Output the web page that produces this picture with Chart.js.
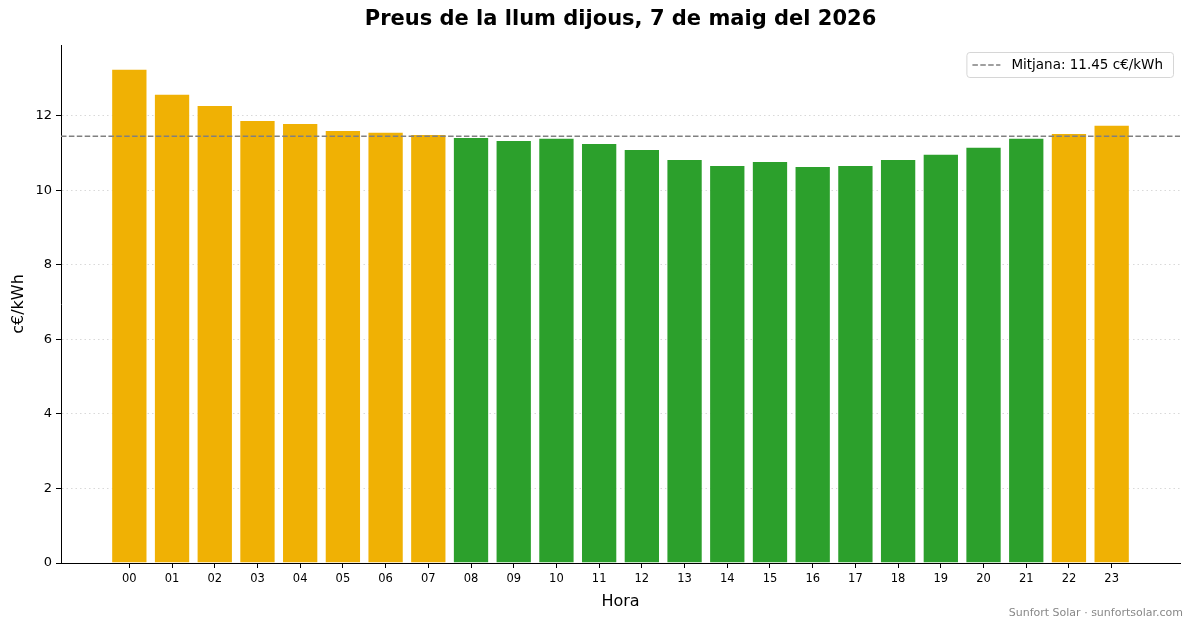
<!DOCTYPE html>
<html>
<head>
<meta charset="utf-8">
<script src="https://cdn.jsdelivr.net/npm/chart.js@4"></script>
<style>
  html, body { margin: 0; padding: 0; background: #fff; }
  #wrap { width: 1193px; height: 628px; position: relative; }
</style>
</head>
<body>
<div id="wrap"><canvas id="c"></canvas></div>
<script>
// hourly prices, c€/kWh
const hours = ['00','01','02','03','04','05','06','07','08','09','10','11',
               '12','13','14','15','16','17','18','19','20','21','22','23'];
const prices = [13.26, 12.59, 12.29, 11.89, 11.81, 11.62, 11.57, 11.51,
                11.43, 11.35, 11.41, 11.27, 11.11, 10.84, 10.68, 10.79,
                10.65, 10.68, 10.84, 10.98, 11.17, 11.41, 11.54, 11.76];
const mean = 11.45;
const yTicks = [0, 2, 4, 6, 8, 10, 12];

const titleText = 'Preus de la llum dijous, 7 de maig del 2026';
const legendText = 'Mitjana: 11.45 c€/kWh';
const footerText = 'Sunfort Solar · sunfortsolar.com';

const FONT = '"DejaVu Sans", sans-serif';
const ORANGE = '#f0b104';
const GREEN = '#2ca02c';
const xMin = -1.6, xMax = 24.6;

// title over the plot area, legend box inside it, footer in the corner
const extras = {
  id: 'extras',
  afterDraw(chart) {
    const ctx = chart.ctx;
    const a = chart.chartArea;
    ctx.save();
    ctx.fillStyle = '#000';
    ctx.font = 'bold 21px ' + FONT;
    ctx.textAlign = 'center';
    ctx.textBaseline = 'middle';
    ctx.fillText(titleText, (a.left + a.right) / 2, 20);

    // legend
    ctx.font = '13.5px ' + FONT;
    const tw = ctx.measureText(legendText).width;
    const bw = tw + 55, bh = 25;
    const bx = a.right - 7 - bw, by = a.top + 7;
    ctx.beginPath();
    ctx.roundRect(bx + 0.5, by + 0.5, bw, bh, 3);
    ctx.fillStyle = 'rgba(255,255,255,0.8)';
    ctx.fill();
    ctx.strokeStyle = '#d6d6d6';
    ctx.lineWidth = 1;
    ctx.stroke();
    ctx.beginPath();
    ctx.setLineDash([5.5, 2.4]);
    ctx.strokeStyle = '#808080';
    ctx.lineWidth = 1.5;
    ctx.moveTo(bx + 6, by + bh / 2 + 0.5);
    ctx.lineTo(bx + 34, by + bh / 2 + 0.5);
    ctx.stroke();
    ctx.setLineDash([]);
    ctx.fillStyle = '#000';
    ctx.textAlign = 'left';
    ctx.fillText(legendText, bx + 45, by + bh / 2 + 1);

    ctx.font = '11px ' + FONT;
    ctx.fillStyle = '#888';
    ctx.textAlign = 'right';
    ctx.fillText(footerText, 1183, 613);
    ctx.restore();
  }
};

new Chart(document.getElementById('c'), {
  type: 'bar',
  data: {
    datasets: [
      {
        type: 'line',
        data: [{ x: xMin, y: mean }, { x: xMax, y: mean }],
        borderColor: '#808080',
        borderWidth: 1.5,
        borderDash: [5.5, 2.4],
        pointRadius: 0,
        order: 0
      },
      {
        data: prices.map((p, i) => ({ x: i, y: p })),
        backgroundColor: prices.map(p => p > mean ? ORANGE : GREEN),
        borderColor: '#fff',
        borderWidth: 1,
        categoryPercentage: 1,
        barPercentage: 0.85,
        order: 1
      }
    ]
  },
  options: {
    responsive: true,
    maintainAspectRatio: false,
    animation: false,
    layout: { padding: { top: 45, right: 13, left: 0, bottom: 0 } },
    plugins: {
      legend: { display: false },
      tooltip: { enabled: false },
      title: { display: false }
    },
    scales: {
      x: {
        type: 'linear',
        min: xMin,
        max: xMax,
        offset: false,
        afterBuildTicks: s => { s.ticks = hours.map((h, i) => ({ value: i })); },
        afterFit: s => { s.height = 65; },
        ticks: {
          autoSkip: false,
          maxRotation: 0,
          padding: 4,
          color: '#000',
          font: { family: FONT, size: 11.5 },
          callback: v => hours[v]
        },
        grid: { display: true, drawOnChartArea: false, drawTicks: true, tickLength: 5, tickColor: '#000', offset: false },
        border: { display: true, color: '#000', width: 1 },
        title: { display: true, text: 'Hora', color: '#000', font: { family: FONT, size: 16 }, padding: { top: 4, bottom: 17 } }
      },
      y: {
        min: 0,
        max: 13.9,
        afterBuildTicks: s => { s.ticks = yTicks.map(v => ({ value: v })); },
        afterFit: s => { s.width = 61; },
        ticks: {
          padding: 4,
          color: '#000',
          font: { family: FONT, size: 13 }
        },
        grid: { color: '#d9d9d9', lineWidth: 1, drawTicks: true, tickLength: 5, tickColor: '#000', tickBorderDash: [] },
        border: { display: true, color: '#000', width: 1, dash: [1.5, 3] },
        title: { display: true, text: 'c€/kWh', color: '#000', font: { family: FONT, size: 16 }, padding: { top: 9, bottom: 4 } }
      }
    }
  },
  plugins: [extras]
});
</script>
</body>
</html>
